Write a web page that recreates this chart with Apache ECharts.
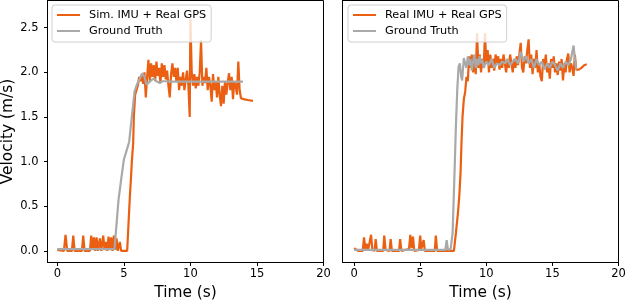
<!DOCTYPE html>
<html>
<head>
<meta charset="utf-8">
<script src="https://cdn.jsdelivr.net/npm/echarts@6/dist/echarts.min.js"></script>
<style>
html,body{margin:0;padding:0;background:#fff;}
#chart{width:626px;height:302px;}
</style>
</head>
<body>
<div id="chart"></div>
<script>
var xTicks = [0, 5, 10, 15, 20];
var yTicks = [0, 0.5, 1, 1.5, 2, 2.5];
var legendLeft = ['Sim. IMU + Real GPS', 'Ground Truth'];
var legendRight = ['Real IMU + Real GPS', 'Ground Truth'];

var simTime = [0.0,0.5,0.62,0.75,1.1,1.2,1.3,1.85,1.95,2.05,2.45,2.55,2.65,2.75,2.85,2.95,3.05,3.2,3.3,3.45,3.55,3.65,3.75,3.85,3.95,4.05,4.15,4.25,4.35,4.45,4.55,4.7,4.8,5.25,5.35,5.45,5.55,5.6,5.7,5.75,5.85,5.95,6.05,6.15,6.25,6.35,6.45,6.55,6.65,6.75,6.85,6.95,7.05,7.15,7.25,7.35,7.45,7.55,7.65,7.75,7.85,7.95,8.05,8.15,8.25,8.35,8.45,8.55,8.65,8.75,8.85,8.95,9.05,9.15,9.25,9.35,9.45,9.55,9.65,9.75,9.85,9.95,10.0,10.1,10.2,10.3,10.4,10.5,10.6,10.7,10.8,10.9,11.0,11.1,11.2,11.3,11.4,11.5,11.6,11.7,11.8,11.9,12.0,12.1,12.2,12.3,12.4,12.5,12.6,12.7,12.8,12.9,13.0,13.1,13.2,13.3,13.4,13.5,13.6,13.7,13.8,14.0,14.3,14.7];
var simVel = [0.01,0.0,0.18,0.0,0.0,0.17,0.0,0.0,0.17,0.0,0.0,0.17,0.02,0.15,0.0,0.15,0.0,0.14,0.0,0.17,0.01,0.1,0.0,0.16,0.02,0.15,0.0,0.17,0.01,0.14,0.0,0.1,0.0,0.0,0.3,0.6,0.85,1.0,1.2,1.5,1.75,1.8,1.85,1.95,1.9,1.98,1.87,2.0,1.72,1.95,2.14,1.9,2.1,1.95,2.08,1.9,2.12,1.96,2.05,1.88,2.1,1.95,2.08,1.92,2.02,1.85,1.72,1.98,2.1,1.95,2.05,1.9,2.05,1.8,1.95,1.85,2.0,1.8,1.92,2.02,1.85,1.5,2.6,2.0,1.85,1.98,1.82,1.95,1.85,2.0,2.36,1.85,1.95,1.88,2.05,1.8,1.95,1.85,1.67,1.98,1.8,1.9,1.72,1.95,1.75,1.62,1.85,1.65,1.9,1.75,1.88,1.99,1.8,1.95,1.7,1.9,1.85,1.75,2.12,1.8,1.71,1.7,1.69,1.68];

var gtLeftTime = [0,4.3,4.45,4.6,4.8,5.0,5.2,5.4,5.6,5.8,6.0,6.2,6.4,6.55,6.7,6.85,7.05,7.25,7.45,7.7,7.9,8.2,8.5,13.95];
var gtLeftVel = [0.02,0.02,0.3,0.57,0.8,1.02,1.12,1.22,1.5,1.78,1.87,1.93,1.99,1.95,1.86,1.87,1.91,1.93,1.9,1.88,1.9,1.9,1.895,1.895];

var realTime = [0.0,0.15,0.3,0.65,0.75,0.85,0.95,1.05,1.2,1.28,1.38,1.55,1.63,1.72,2.2,2.28,2.38,2.68,2.76,2.86,3.4,3.48,3.58,4.15,4.25,4.35,4.45,4.55,4.9,5.0,5.08,5.18,5.26,5.35,6.1,6.18,6.28,7.55,7.7,7.85,7.95,8.05,8.12,8.2,8.3,8.4,8.5,8.6,8.7,8.8,8.9,9.0,9.1,9.2,9.3,9.4,9.5,9.6,9.7,9.8,9.9,10.0,10.1,10.2,10.3,10.4,10.5,10.6,10.7,10.8,10.9,11.0,11.1,11.2,11.3,11.4,11.5,11.6,11.7,11.8,11.9,12.0,12.1,12.2,12.3,12.4,12.5,12.6,12.7,12.8,12.9,13.0,13.1,13.2,13.3,13.4,13.5,13.6,13.7,13.8,13.9,14.0,14.1,14.2,14.3,14.4,14.5,14.6,14.7,14.8,14.9,15.0,15.1,15.2,15.3,15.4,15.5,15.6,15.7,15.8,15.9,16.0,16.1,16.2,16.3,16.4,16.5,16.6,16.7,16.8,16.9,17.0,17.2,17.4,17.6];
var realVel = [0.03,0.03,0.0,0.0,0.15,0.02,0.08,0.0,0.02,0.18,0.01,0.0,0.13,0.0,0.0,0.17,0.01,0.0,0.13,0.0,0.0,0.13,0.0,0.02,0.18,0.03,0.16,0.0,0.01,0.17,0.02,0.03,0.12,0.0,0.0,0.17,0.0,0.0,0.2,0.42,0.6,0.87,1.2,1.5,1.7,1.78,1.95,1.9,2.18,2.05,2.2,2.0,2.15,1.98,2.44,2.05,2.2,2.0,2.15,2.05,2.44,2.1,2.25,2.0,2.2,2.05,2.15,2.02,2.2,2.1,2.18,2.03,2.15,2.05,2.2,2.1,2.0,2.12,2.05,2.2,2.1,2.0,2.15,2.05,2.18,2.08,2.2,2.33,2.05,2.0,2.18,2.1,2.25,2.37,2.05,2.2,1.98,2.15,2.05,2.25,2.0,2.1,1.95,1.9,2.15,2.05,2.2,2.0,2.1,1.93,2.15,2.05,2.18,2.0,2.1,1.97,2.12,2.02,2.15,1.91,2.1,2.0,2.15,2.21,2.0,2.1,2.05,1.96,2.2,2.03,2.05,2.03,2.05,2.08,2.09];

var gtRightTime = [0,6.9,7.0,7.1,7.3,7.45,7.6,7.7,7.8,7.9,8.0,8.1,8.17,8.3,8.4,8.5,8.6,8.7,8.8,8.9,9.0,9.1,9.2,9.3,9.4,9.5,9.6,9.7,9.8,10.0,10.2,10.4,10.6,10.8,11.0,11.2,11.4,11.6,11.8,12.0,12.2,12.4,12.6,12.8,13.0,13.2,13.4,13.6,13.8,14.0,14.2,14.4,14.6,14.8,15.0,15.2,15.4,15.6,15.8,16.0,16.2,16.4,16.6,16.7,16.8];
var gtRightVel = [0.01,0.01,0.12,0.01,0.02,0.2,0.9,1.4,1.8,2.06,2.1,1.95,1.91,2.16,2.1,2.05,2.18,2.08,2.15,2.02,2.12,2.2,2.05,2.15,2.08,2.18,2.1,2.14,2.05,2.12,2.08,2.15,2.05,2.1,2.08,2.12,2.1,2.15,2.08,2.12,2.15,2.1,2.23,2.12,2.18,2.1,2.15,2.05,2.15,2.08,2.12,2.03,2.1,2.05,2.12,2.08,2.02,2.1,2.05,2.12,2.08,2.15,2.3,2.15,2.03];

function pairs(t, v) { return t.map(function (x, i) { return [x, v[i]]; }); }

var FONT = 'DejaVu Sans';
var ORANGE = '#eb5f12';
var GRAY = '#a9a9a9';

function xAxisFor(idx, minVal) {
  return {
    type: 'value', gridIndex: idx, min: minVal, max: 20,
    name: 'Time (s)', nameLocation: 'middle', nameGap: 22,
    nameTextStyle: { fontFamily: FONT, fontSize: 15.4, color: '#000' },
    axisLine: { show: true, onZero: false, lineStyle: { color: '#000', width: 1 } },
    axisTick: { show: true, length: 3.5, customValues: xTicks, lineStyle: { color: '#000' } },
    axisLabel: { show: true, customValues: xTicks, margin: 6, fontFamily: FONT, fontSize: 11.5, color: '#000' },
    splitLine: { show: false }
  };
}
function yAxisFor(idx, showLabels) {
  return {
    type: 'value', gridIndex: idx, min: -0.131, max: 2.805,
    name: showLabels ? 'Velocity (m/s)' : '', nameLocation: 'middle', nameGap: 32,
    nameTextStyle: { fontFamily: FONT, fontSize: 15.4, color: '#000' },
    axisLine: { show: true, onZero: false, lineStyle: { color: '#000', width: 1 } },
    axisTick: { show: showLabels, length: 3.5, customValues: yTicks, lineStyle: { color: '#000' } },
    axisLabel: { show: showLabels, customValues: yTicks, margin: 9, fontFamily: FONT, fontSize: 11.5, color: '#000',
      formatter: function (v) { return v.toFixed(1); } },
    splitLine: { show: false }
  };
}
function legendFor(left, names) {
  return {
    left: left, top: 5, orient: 'vertical', data: names,
    icon: 'rect', itemWidth: 23, itemHeight: 2, itemGap: 2,
    padding: [3, 5, 4, 5],
    backgroundColor: 'rgba(255,255,255,0.8)', borderColor: '#d0d0d0', borderWidth: 1, borderRadius: 3,
    textStyle: { fontFamily: FONT, fontSize: 11.3, color: '#000', lineHeight: 14, padding: [0, 0, 0, 4] },
    selectedMode: false
  };
}

var chart = echarts.init(document.getElementById('chart'), null, { renderer: 'canvas' });
chart.setOption({
  animation: false,
  backgroundColor: '#fff',
  grid: [
    { left: 47.5, top: 0.5, width: 276, height: 262, show: true, borderColor: '#000', borderWidth: 1, backgroundColor: 'transparent', outerBoundsMode: 'none', containLabel: false },
    { left: 342.5, top: 0.5, width: 276, height: 262, show: true, borderColor: '#000', borderWidth: 1, backgroundColor: 'transparent', outerBoundsMode: 'none', containLabel: false }
  ],
  xAxis: [xAxisFor(0, -0.735), xAxisFor(1, -0.88)],
  yAxis: [yAxisFor(0, true), yAxisFor(1, false)],
  legend: [legendFor(52, legendLeft), legendFor(348, legendRight)],
  series: [
    { name: legendLeft[0], type: 'line', xAxisIndex: 0, yAxisIndex: 0, data: pairs(simTime, simVel), showSymbol: false, symbol: 'none', color: ORANGE, lineStyle: { color: ORANGE, width: 2.2 } },
    { name: 'Ground Truth', type: 'line', xAxisIndex: 0, yAxisIndex: 0, data: pairs(gtLeftTime, gtLeftVel), showSymbol: false, symbol: 'none', color: GRAY, lineStyle: { color: GRAY, width: 2.2 } },
    { name: legendRight[0], type: 'line', xAxisIndex: 1, yAxisIndex: 1, data: pairs(realTime, realVel), showSymbol: false, symbol: 'none', color: ORANGE, lineStyle: { color: ORANGE, width: 2.2 } },
    { name: 'Ground Truth', type: 'line', xAxisIndex: 1, yAxisIndex: 1, data: pairs(gtRightTime, gtRightVel), showSymbol: false, symbol: 'none', color: GRAY, lineStyle: { color: GRAY, width: 2.2 } }
  ]
});
</script>
</body>
</html>
